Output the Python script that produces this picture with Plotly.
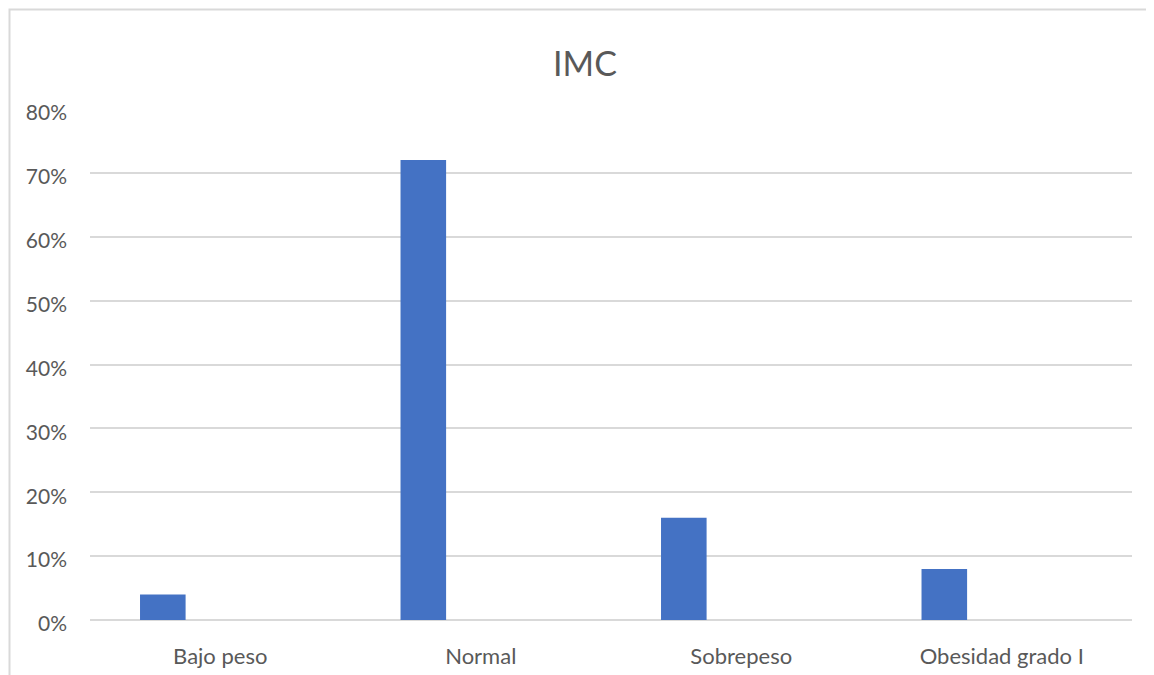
import plotly.graph_objects as go

categories = ["Bajo peso", "Normal", "Sobrepeso", "Obesidad grado I"]
values = [0.04, 0.72, 0.16, 0.08]
tick_vals = [0, 0.1, 0.2, 0.3, 0.4, 0.5, 0.6, 0.7, 0.8]
tick_text = ["0%", "10%", "20%", "30%", "40%", "50%", "60%", "70%", "80%"]

# page body has an 8px margin; compensate
OFF = 8
W, H = 1154, 675
L, R, T, B = 90 - OFF, 22 + OFF, 109 - OFF, 55 + OFF
pw = W - L - R
ph = H - T - B

fig = go.Figure()
fig.add_trace(go.Bar(
    x=categories, y=values,
    marker=dict(color="#4472C4", line=dict(width=0)),
    width=0.175, offset=-0.308,
    hoverinfo="x+y",
))

font_family = "Lato, 'Open Sans', sans-serif"
fig.update_layout(
    width=W, height=H,
    margin=dict(l=L, r=R, t=T, b=B),
    paper_bgcolor="white", plot_bgcolor="white",
    showlegend=False,
    title=dict(text="IMC", x=(585 - OFF) / W, xanchor="center",
               y=1 - (64 - OFF) / H, yanchor="middle", yref="container",
               font=dict(family=font_family, size=34, color="#595959")),
    font=dict(family=font_family, color="#595959"),
    xaxis=dict(type="category", showgrid=False, showline=False, ticks="",
               tickfont=dict(size=22, color="#595959"),
               ticklabelstandoff=21, fixedrange=True),
    yaxis=dict(range=[0, 0.8], tickvals=tick_vals, ticktext=tick_text,
               showgrid=True, gridcolor="#D9D9D9", gridwidth=1.5,
               zeroline=True, zerolinecolor="#D9D9D9", zerolinewidth=1.5,
               showline=False, ticks="",
               tickfont=dict(size=21, color="#595959"),
               ticklabelstandoff=22, ticklabelshift=4, fixedrange=True),
    shapes=[dict(type="rect", xref="paper", yref="paper",
                 x0=(9.5 - OFF - L) / pw, x1=(W + 20 - L) / pw,
                 y0=-(B + 20) / ph, y1=(ph + (T - (9.5 - OFF))) / ph,
                 line=dict(color="#D9D9D9", width=2), fillcolor="rgba(0,0,0,0)",
                 layer="below")],
)

fig.write_html("out.html")
